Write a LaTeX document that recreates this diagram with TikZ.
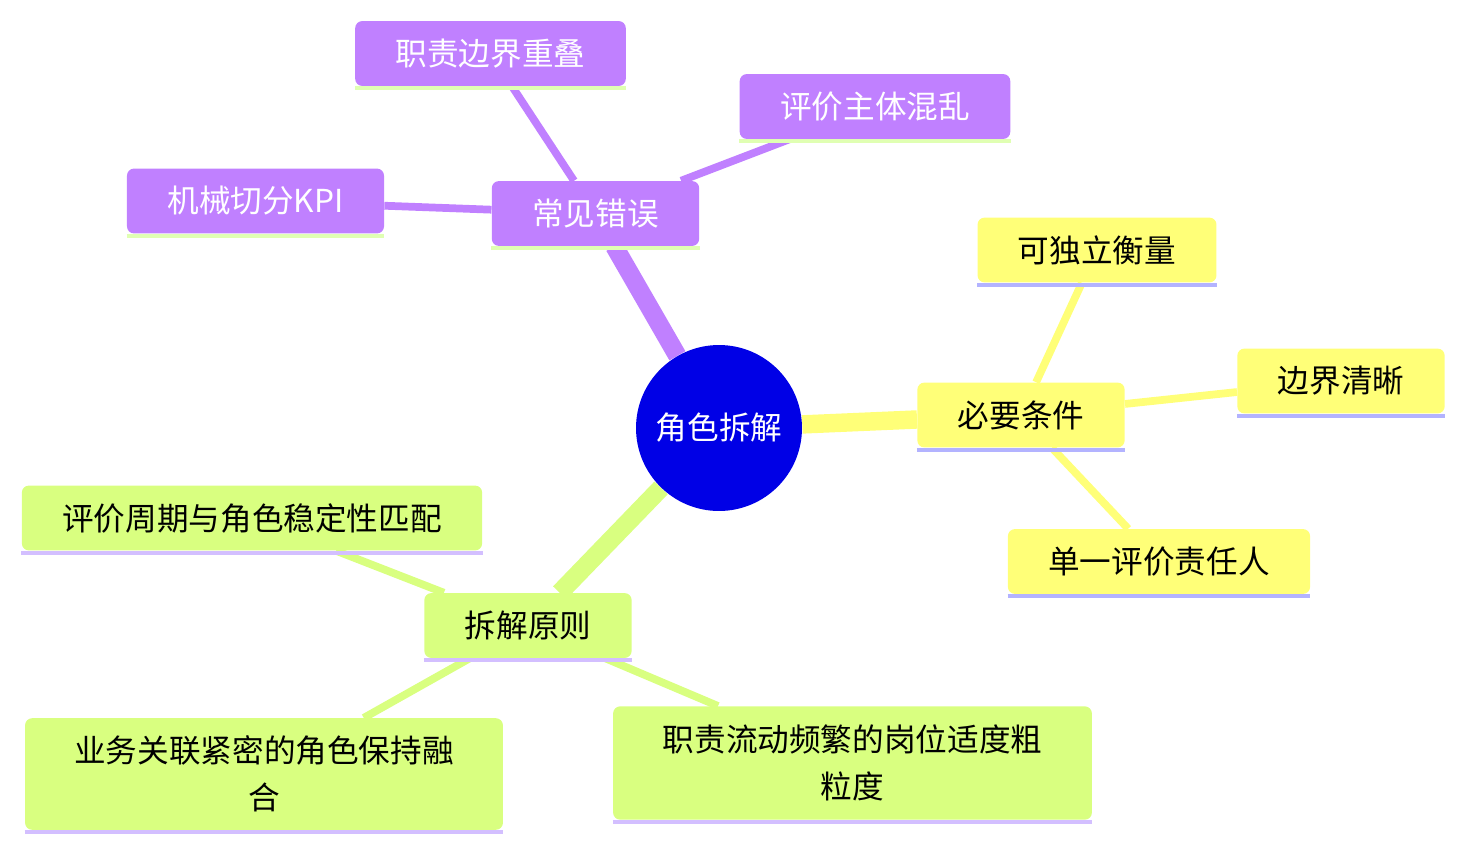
\documentclass[tikz,border=0pt]{standalone}
\usepackage{fontspec}
\setmainfont{Noto Sans CJK SC}
\usepackage{tikz}
\usetikzlibrary{backgrounds}
\usepackage{xcolor}

\definecolor{rootC}{HTML}{0000E6}
\definecolor{errC}{HTML}{C080FF}
\definecolor{errLine}{HTML}{E0FFB3}
\definecolor{needC}{HTML}{FFFF78}
\definecolor{needLine}{HTML}{B3B3FF}
\definecolor{ruleC}{HTML}{D9FF80}
\definecolor{ruleLine}{HTML}{D3BFFF}

\begin{document}
\begin{tikzpicture}[
        x=0.02cm, y=-0.02cm,
        idea/.style={rounded corners=4pt, inner xsep=23pt, inner ysep=4pt, minimum height=36.9pt,
            font=\fontsize{18}{26.6}\selectfont, align=center},
        uline/.style={append after command={
            ([yshift=-1.2pt]\tikzlastnode.south west) edge[draw=#1, line width=2.4pt]
            ([yshift=-1.2pt]\tikzlastnode.south east)}},
        errbox/.style={idea, fill=errC, text=white, uline=errLine},
        needbox/.style={idea, fill=needC, text=black, uline=needLine},
        rulebox/.style={idea, fill=ruleC, text=black, uline=ruleLine},
        trunk/.style={line width=10.5pt},
        twig/.style={line width=4.4pt}
    ]
        \useasboundingbox (0,0) rectangle (1464,853);

        % Root
        \node[circle, fill=rootC, text=white, minimum size=3.32cm, inner sep=0pt,
              font=\fontsize{18}{26.6}\selectfont] (root) at (719,428) {角色拆解};

        % Common mistakes
        \node[errbox] (err) at (595.5,213.5) {常见错误};
        \node[errbox] (err1) at (490.5,53.5) {职责边界重叠};
        \node[errbox] (err2) at (875,106.5) {评价主体混乱};
        \node[errbox] (err3) at (255.5,201) {机械切分KPI};

        % Necessary conditions
        \node[needbox] (need) at (1021,415) {必要条件};
        \node[needbox] (need1) at (1097,250) {可独立衡量};
        \node[needbox] (need2) at (1341,381) {边界清晰};
        \node[needbox] (need3) at (1159,561.5) {单一评价责任人};

        % Principles
        \node[rulebox] (rule) at (528,625.5) {拆解原则};
        \node[rulebox] (rule1) at (252,518) {评价周期与角色稳定性匹配};
        \node[rulebox, minimum width=272pt, minimum height=63.5pt] (rule2) at (264,774)
            {业务关联紧密的角色保持融\\合};
        \node[rulebox, minimum width=272.5pt, minimum height=64.5pt] (rule3) at (852.5,763)
            {职责流动频繁的岗位适度粗\\粒度};

        % Branches
        \begin{scope}[on background layer]
            \draw[trunk, errC] (root) -- (err);
            \draw[twig, errC] (err) -- (err1);
            \draw[twig, errC] (err) -- (err2);
            \draw[twig, errC] (err) -- (err3);

            \draw[trunk, needC] (root) -- (need);
            \draw[twig, needC] (need) -- (need1);
            \draw[twig, needC] (need) -- (need2);
            \draw[twig, needC] (need) -- (need3);

            \draw[trunk, ruleC] (root) -- (rule);
            \draw[twig, ruleC] (rule) -- (rule1);
            \draw[twig, ruleC] (rule) -- (rule2);
            \draw[twig, ruleC] (rule) -- (rule3);
        \end{scope}
    \end{tikzpicture}
\end{document}
